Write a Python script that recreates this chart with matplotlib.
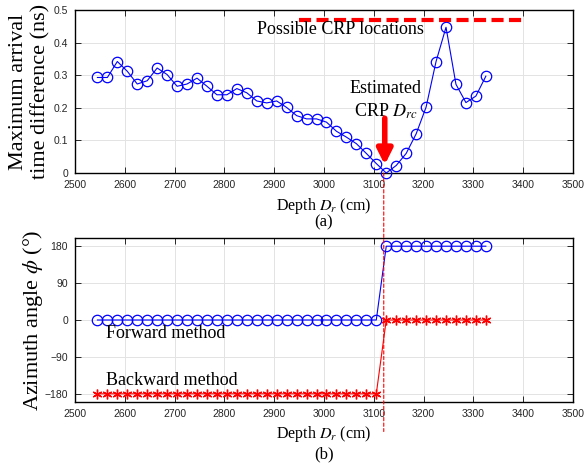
import matplotlib
matplotlib.use("Agg")
import matplotlib.pyplot as plt
from matplotlib.patches import ConnectionPatch
import numpy as np

# ---------------- data ----------------
depth = [2545, 2565, 2585, 2605, 2625, 2645, 2665, 2685, 2705, 2725,
         2745, 2765, 2785, 2805, 2825, 2845, 2865, 2885, 2905, 2925,
         2945, 2965, 2985, 3005, 3025, 3045, 3065, 3085, 3105, 3125,
         3145, 3165, 3185, 3205, 3225, 3245, 3265, 3285, 3305, 3325]
max_diff = [0.293, 0.293, 0.342, 0.312, 0.273, 0.283, 0.322, 0.302, 0.266, 0.273,
            0.291, 0.266, 0.240, 0.240, 0.259, 0.246, 0.221, 0.215, 0.221, 0.201,
            0.176, 0.166, 0.166, 0.156, 0.128, 0.110, 0.090, 0.060, 0.029, 0.000,
            0.023, 0.060, 0.120, 0.202, 0.342, 0.447, 0.272, 0.216, 0.236, 0.297]
forward = [0]*29 + [180]*11
backward = [-180]*29 + [0]*11
crp_depth = 3120
crp_range = [2950, 3400]
crp_level = 0.47
xticks = [2500, 2600, 2700, 2800, 2900, 3000, 3100, 3200, 3300, 3400, 3500]
yticks_a = [0, 0.1, 0.2, 0.3, 0.4, 0.5]
yticks_b = [-180, -90, 0, 90, 180]

# ---------------- style ----------------
plt.rcParams['mathtext.fontset'] = 'stix'
serif = 'Liberation Serif'
tickfont = 'Liberation Sans'
tick_col = '#262626'

fig = plt.figure(figsize=(5.86, 4.68), dpi=100)
W, H = 586, 468
def pos(l, t, r, b):
    return [l / W, 1 - b / H, (r - l) / W, (b - t) / H]

ax1 = fig.add_axes(pos(75, 10, 573, 173))
ax2 = fig.add_axes(pos(75, 238, 573, 402))

def style(ax):
    ax.set_xlim(2500, 3500)
    ax.set_xticks(xticks)
    ax.grid(True, color='#e3e3e3', lw=0.7)
    ax.set_axisbelow(True)
    ax.tick_params(direction='in', top=True, right=True, length=4, width=0.7,
                   labelsize=7.5, labelcolor=tick_col, color='#262626', pad=5)
    for lab in ax.get_xticklabels() + ax.get_yticklabels():
        lab.set_family(tickfont)
    for s in ax.spines.values():
        s.set_linewidth(1.0)
        s.set_color('black')

# ---------------- (a) ----------------
ax1.plot(depth, max_diff, '-', color='blue', lw=0.8, marker='o', ms=7.5,
         mfc='none', mec='blue', mew=0.9, clip_on=False, zorder=3)
ax1.set_ylim(0, 0.5)
ax1.set_yticks(yticks_a)
ax1.set_yticklabels(['0', '0.1', '0.2', '0.3', '0.4', '0.5'])
style(ax1)
ax1.plot(crp_range, [crp_level, crp_level], color='red', lw=3,
         linestyle=(0, (2.9, 1.3)), zorder=4)
ax1.text(2865, 0.44, 'Possible CRP locations', family=serif, fontsize=13,
         ha='left', va='center', zorder=5)
ax1.text(3124, 0.258, 'Estimated', family=serif, fontsize=13, ha='center', va='center')
ax1.text(3124, 0.19, 'CRP $D_{rc}$', family=serif, fontsize=13, ha='center', va='center')
ax1.annotate('', xy=(3122, 0.025), xytext=(3122, 0.168),
             arrowprops=dict(arrowstyle='-|>,head_width=0.45,head_length=0.9',
                             color='red', lw=4, shrinkA=0, shrinkB=0),
             zorder=6)
ax1.set_ylabel('Maximum arrival\ntime difference (ns)', family=serif, fontsize=16,
               linespacing=1.2, labelpad=2)
ax1.set_xlabel('Depth $D_r$ (cm)', family=serif, fontsize=11.5, labelpad=4)
ax1.text(0.5, -0.30, '(a)', transform=ax1.transAxes, family=serif, fontsize=12,
         ha='center', va='center')

# ---------------- (b) ----------------
ax2.plot(depth, forward, '-', color='blue', lw=0.8, marker='o', ms=7.5,
         mfc='none', mec='blue', mew=0.9, zorder=3)
ax2.plot(depth, backward, '-', color='red', lw=0.8, marker=(6, 2, 0), ms=7,
         mec='red', mew=1.0, zorder=3)
ax2.set_ylim(-200, 200)
ax2.set_yticks(yticks_b)
style(ax2)
ax2.text(2562, -32, 'Forward method', family=serif, fontsize=13, ha='left', va='center')
ax2.text(2562, -148, 'Backward method', family=serif, fontsize=13, ha='left', va='center')
ax2.set_ylabel('Azimuth angle $\\phi$ (°)', family=serif, fontsize=16, labelpad=0)
ax2.set_xlabel('Depth $D_r$ (cm)', family=serif, fontsize=11.5, labelpad=4)
ax2.text(0.5, -0.317, '(b)', transform=ax2.transAxes, family=serif, fontsize=12,
         ha='center', va='center')

# vertical dashed reference line through both panels
con = ConnectionPatch(xyA=(crp_depth, 0.0), coordsA=ax1.transData,
                      xyB=(crp_depth, -272), coordsB=ax2.transData,
                      color='red', lw=0.8, linestyle=(0, (3, 2)), zorder=10)
con.set_clip_on(False)
fig.add_artist(con)

fig.savefig('out.png', dpi=100)
